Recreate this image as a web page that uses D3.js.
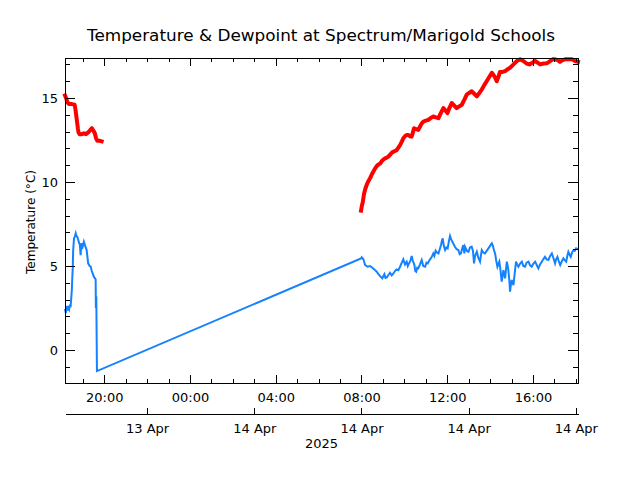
<!DOCTYPE html>
<html><head><meta charset="utf-8">
<script src="https://cdn.jsdelivr.net/npm/d3@7"></script>
<style>body{margin:0;background:#fff}</style>
</head><body><svg id="c" width="640" height="480"></svg>
<script>
const titleText = "Temperature & Dewpoint at Spectrum/Marigold Schools";
const yLabelText = "Temperature (°C)";
const yearLabel = "2025";
// times are hours since 2025-04-13 00:00
const tempHours = [18.17,18.22,18.28,18.35,18.45,18.55,18.62,18.66,18.70,18.73,18.77,18.80,18.85,18.95,19.05,19.15,19.25,19.35,19.42,19.50,19.56,19.62,19.68,19.80,19.88,
 25.0,
 31.98,32.02,32.06,32.12,32.18,32.24,32.32,32.40,32.48,32.55,32.63,32.71,32.80,32.87,32.95,33.03,33.10,33.18,33.25,33.35,33.42,33.49,33.56,33.64,33.72,33.80,33.88,33.95,34.05,34.12,34.19,34.27,34.34,34.40,34.45,34.55,34.65,34.75,34.82,34.89,35.00,35.12,35.22,35.35,35.47,35.59,35.70,35.82,35.92,36.01,36.10,36.21,36.33,36.44,36.56,36.68,36.80,36.91,37.02,37.14,37.26,37.38,37.50,37.61,37.72,37.84,37.96,38.08,38.20,38.31,38.40,38.46,38.58,38.70,38.81,38.93,39.01,39.09,39.25,39.40,39.55,39.70,39.83,39.97,40.10,40.22,40.33,40.50,40.64,40.80,40.92,41.03,41.15,41.26,41.38,41.50,41.60,41.70,41.82,41.96,42.10];
const tempValues = [15.15,15.0,14.75,14.65,14.65,14.62,14.6,14.3,13.9,13.6,13.2,12.95,12.85,12.85,12.9,12.85,12.95,13.1,13.2,13.05,12.9,12.6,12.45,12.45,12.42,
 null,
 8.3,8.6,8.8,9.3,9.6,9.82,10.05,10.22,10.45,10.61,10.8,10.95,11.05,11.1,11.25,11.35,11.41,11.45,11.51,11.65,11.75,11.8,11.85,11.9,12.05,12.2,12.4,12.6,12.75,12.8,12.8,12.72,12.7,12.95,13.2,13.15,13.1,13.35,13.5,13.6,13.65,13.7,13.8,13.9,13.85,13.8,14.1,14.4,14.25,14.1,14.4,14.7,14.55,14.4,14.5,14.6,14.9,15.2,15.3,15.4,15.25,15.1,15.3,15.5,15.75,16.0,16.25,16.5,16.3,16.0,16.3,16.55,16.55,16.6,16.7,16.8,16.9,17.0,17.2,17.3,17.2,17.05,17.0,17.1,17.2,17.1,17.0,17.05,17.06,17.2,17.3,17.3,17.25,17.15,17.25,17.3,17.3,17.3,17.3,17.2,17.15];
const dewHours = [18.17,18.21,18.25,18.29,18.32,18.36,18.40,18.43,18.45,18.49,18.51,18.53,18.55,18.59,18.63,18.67,18.70,18.74,18.79,18.83,18.86,18.90,18.93,18.99,19.05,19.11,19.18,19.22,19.25,19.32,19.37,19.42,19.46,19.52,19.57,19.60,19.61,19.63,19.66,
 31.98,32.01,32.09,32.17,32.29,32.40,32.51,32.60,32.71,32.80,32.87,32.97,33.07,33.12,33.18,33.25,33.33,33.41,33.49,33.56,33.64,33.72,33.80,33.88,33.95,34.03,34.11,34.16,34.22,34.28,34.34,34.40,34.47,34.51,34.55,34.60,34.65,34.73,34.81,34.88,34.97,35.03,35.09,35.15,35.20,35.28,35.35,35.40,35.46,35.52,35.59,35.65,35.71,35.75,35.79,35.84,35.90,35.96,36.02,36.08,36.13,36.18,36.24,36.30,36.36,36.44,36.52,36.58,36.64,36.70,36.75,36.80,36.83,36.92,36.99,37.06,37.14,37.20,37.25,37.30,37.38,37.45,37.53,37.58,37.61,37.68,37.76,37.84,37.92,38.00,38.08,38.13,38.18,38.24,38.28,38.34,38.38,38.43,38.48,38.54,38.58,38.62,38.66,38.70,38.74,38.78,38.82,38.85,38.90,38.93,38.97,39.01,39.05,39.09,39.15,39.21,39.26,39.32,39.40,39.48,39.55,39.63,39.70,39.79,39.86,39.94,40.02,40.10,40.18,40.25,40.33,40.41,40.48,40.56,40.64,40.72,40.80,40.88,40.96,41.03,41.08,41.14,41.20,41.27,41.35,41.42,41.48,41.55,41.60,41.65,41.70,41.76,41.82,41.89,41.95,42.01,42.10];
const dewValues = [2.45,2.2,2.62,2.35,2.5,2.4,2.7,2.55,2.9,3.6,4.3,4.8,5.9,6.65,6.75,6.94,6.8,6.74,6.55,6.35,6.3,5.65,6.35,6.15,6.45,6.2,5.95,5.5,5.16,5.0,4.96,4.7,4.56,4.35,4.27,4.2,2.5,3.2,-1.25,
 5.45,5.52,5.4,5.06,4.96,5.0,4.9,4.8,4.66,4.5,4.4,4.27,4.52,4.3,4.33,4.45,4.6,4.45,4.56,4.7,4.8,4.75,4.96,5.2,5.4,5.1,5.26,5.0,5.16,5.3,5.6,5.3,5.06,4.7,4.66,4.9,4.86,5.1,5.36,5.0,4.96,5.2,5.16,5.3,5.4,5.55,5.75,5.6,5.91,5.8,5.75,6.0,6.25,6.5,6.65,6.2,5.95,6.1,6.05,6.5,6.79,6.6,6.45,6.3,6.15,6.0,5.95,5.7,5.75,6.05,6.25,5.75,6.15,5.9,5.85,6.1,6.15,5.9,5.16,5.6,5.85,5.5,5.26,5.7,5.95,5.8,5.75,5.9,6.05,6.2,6.35,6.2,5.95,5.7,5.36,4.96,5.1,5.26,4.8,4.07,4.4,4.76,4.5,4.27,4.8,5.26,5.0,4.76,4.1,3.47,3.9,4.17,4.0,3.87,4.6,5.26,5.1,4.96,5.15,5.26,5.0,4.96,5.2,5.26,5.05,4.96,5.15,5.26,5.05,4.86,5.1,5.26,5.4,5.55,5.4,5.36,5.6,5.75,5.45,5.16,5.4,5.55,5.3,5.06,5.3,5.46,5.35,5.26,5.6,5.85,5.7,5.55,5.8,5.95,5.9,6.05,6.0];
const yMajorTicks = [0,5,10,15];
const yMinorTicks = [-1,1,2,3,4,6,7,8,9,11,12,13,14,16,17];
const timeMajorHours = [20,24,28,32,36,40];
const timeMinorHours = [19,21,22,23,25,26,27,29,30,31,33,34,35,37,38,39,41,42];
const dateTickHours = [22,27,32,37,42];
const dateTickLabels = ["13 Apr","14 Apr","14 Apr","14 Apr","14 Apr"];
const xDomainHours = [18.17, 42.10];
const yDomain = [-1.96, 17.38];

const base = Date.UTC(2025,3,13);
const toDate = h => new Date(base + h*3600e3);
const L = 65, R = 578, T = 58, B = 383;
const svg = d3.select("#c");
const font = "'DejaVu Sans', sans-serif";
const x = d3.scaleUtc().domain(xDomainHours.map(toDate)).range([L,R]);
const y = d3.scaleLinear().domain(yDomain).range([B,T]);

svg.append("rect").attr("width",640).attr("height",480).attr("fill","#fff");

// data
const temp = tempHours.map((h,i)=>({t:toDate(h), v:tempValues[i]}));
const dew = dewHours.map((h,i)=>({t:toDate(h), v:dewValues[i]}));
const line = d3.line().defined(d=>d.v!=null).x(d=>x(d.t)).y(d=>y(d.v));
svg.append("path").datum(dew).attr("d",line).attr("fill","none")
  .attr("stroke","#1482ff").attr("stroke-width",2).attr("stroke-linejoin","miter");
svg.append("path").datum(temp).attr("d",line).attr("fill","none")
  .attr("stroke","#ff0000").attr("stroke-width",4).attr("stroke-linejoin","round").attr("stroke-linecap","square");

function styleAxis(g){
  g.selectAll(".domain").remove();
  g.selectAll("line").attr("stroke","#000").attr("shape-rendering","crispEdges");
  g.selectAll("text").attr("font-family",font).attr("font-size",13).attr("fill","#000");
}
// bottom
svg.append("g").attr("transform",`translate(0,${B})`)
  .call(d3.axisBottom(x).tickValues(timeMajorHours.map(toDate)).tickSize(-8).tickFormat(d3.utcFormat("%H:%M")))
  .call(styleAxis).call(g=>g.selectAll("text").attr("y",19).attr("dy",0));
svg.append("g").attr("transform",`translate(0,${B})`)
  .call(d3.axisBottom(x).tickValues(timeMinorHours.map(toDate)).tickSize(-4).tickFormat(""))
  .call(styleAxis);
// top
svg.append("g").attr("transform",`translate(0,${T})`)
  .call(d3.axisTop(x).tickValues(timeMajorHours.map(toDate)).tickSize(-8).tickFormat(""))
  .call(styleAxis);
svg.append("g").attr("transform",`translate(0,${T})`)
  .call(d3.axisTop(x).tickValues(timeMinorHours.map(toDate)).tickSize(-4).tickFormat(""))
  .call(styleAxis);
// left
svg.append("g").attr("transform",`translate(${L},0)`)
  .call(d3.axisLeft(y).tickValues(yMajorTicks).tickSize(-10).tickFormat(d3.format("d")))
  .call(styleAxis).call(g=>g.selectAll("text").attr("x",-7).attr("dy","0.36em"));
svg.append("g").attr("transform",`translate(${L},0)`)
  .call(d3.axisLeft(y).tickValues(yMinorTicks).tickSize(-5).tickFormat(""))
  .call(styleAxis);
// right
svg.append("g").attr("transform",`translate(${R},0)`)
  .call(d3.axisRight(y).tickValues(yMajorTicks).tickSize(-10).tickFormat(""))
  .call(styleAxis);
svg.append("g").attr("transform",`translate(${R},0)`)
  .call(d3.axisRight(y).tickValues(yMinorTicks).tickSize(-5).tickFormat(""))
  .call(styleAxis);
// frame
svg.append("rect").attr("x",L+0.5).attr("y",T+0.5).attr("width",R-L).attr("height",B-T)
  .attr("fill","none").attr("stroke","#000").attr("stroke-width",1);

// second date axis
const dateMap = new Map(dateTickHours.map((h,i)=>[+toDate(h), dateTickLabels[i]]));
const g2 = svg.append("g").attr("transform",`translate(0,413.5)`)
  .call(d3.axisBottom(x).tickValues(dateTickHours.map(toDate)).tickSize(-6).tickSizeOuter(0)
    .tickFormat(d=>dateMap.get(+d)));
g2.select(".domain").attr("stroke","#000").attr("shape-rendering","crispEdges");
g2.selectAll("line").attr("stroke","#000").attr("shape-rendering","crispEdges");
g2.selectAll("text").attr("font-family",font).attr("font-size",13).attr("fill","#000").attr("y",19).attr("dy",0);
svg.append("text").attr("x",(L+R)/2).attr("y",448).attr("text-anchor","middle")
  .attr("font-family",font).attr("font-size",13).text(yearLabel);

// title
svg.append("text").attr("x",321).attr("y",41).attr("text-anchor","middle")
  .attr("font-family",font).attr("font-size",15).attr("textLength",468).attr("lengthAdjust","spacingAndGlyphs")
  .text(titleText);
// y label
svg.append("text").attr("transform",`translate(35,222) rotate(-90)`).attr("text-anchor","middle")
  .attr("font-family",font).attr("font-size",13).attr("textLength",104).attr("lengthAdjust","spacingAndGlyphs")
  .text(yLabelText);
</script></body></html>
